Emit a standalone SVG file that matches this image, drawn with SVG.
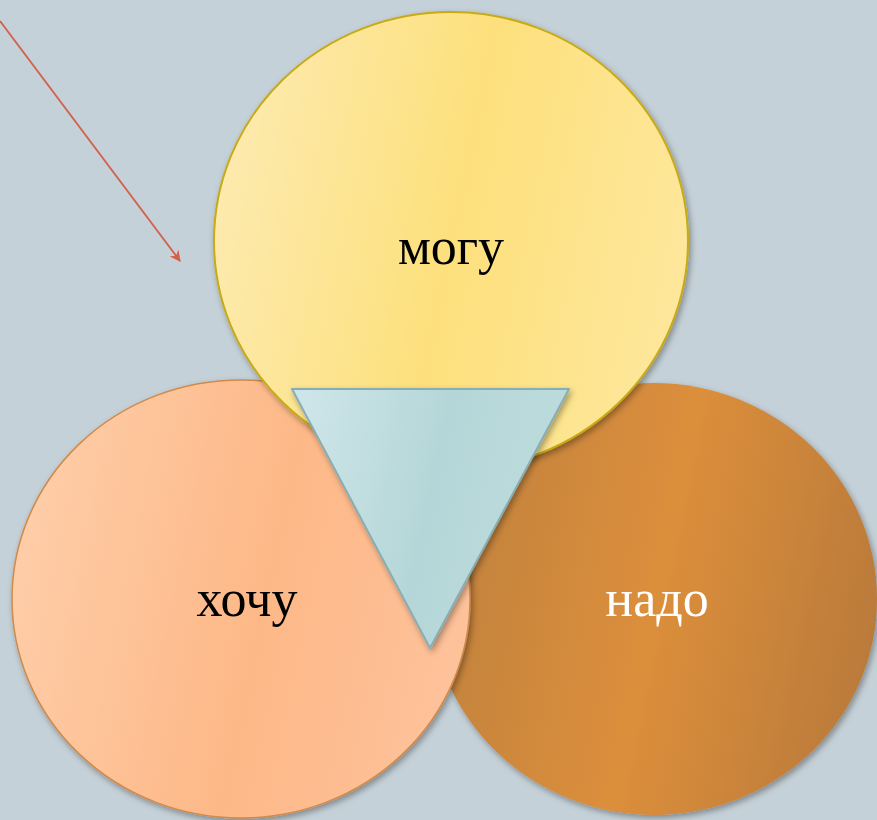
<svg xmlns="http://www.w3.org/2000/svg" width="877" height="820" viewBox="0 0 877 820">
<style>
.lbl{font-family:"Liberation Serif","Times New Roman",serif;font-size:52px;text-anchor:middle}
</style>
<defs>
<filter id="sh" x="-10%" y="-10%" width="125%" height="125%">
<feDropShadow dx="2" dy="3" stdDeviation="3" flood-color="#000" flood-opacity="0.35"/>
</filter>
<linearGradient id="gy" x1="0" y1="0.4" x2="1" y2="0.6">
<stop offset="0" stop-color="#fdeaae"/>
<stop offset="0.5" stop-color="#fde07c"/>
<stop offset="1" stop-color="#fee79c"/>
</linearGradient>
<linearGradient id="gp" x1="0" y1="0.4" x2="1" y2="0.6">
<stop offset="0" stop-color="#fecda8"/>
<stop offset="0.55" stop-color="#fdb887"/>
<stop offset="1" stop-color="#fec29b"/>
</linearGradient>
<linearGradient id="go" x1="0" y1="0.4" x2="1" y2="0.6">
<stop offset="0" stop-color="#c0813f"/>
<stop offset="0.5" stop-color="#dc8f3b"/>
<stop offset="1" stop-color="#ba7a3a"/>
</linearGradient>
<linearGradient id="gt" x1="0" y1="0.3" x2="1" y2="0.5">
<stop offset="0" stop-color="#cde5e8"/>
<stop offset="0.5" stop-color="#b5d6d8"/>
<stop offset="1" stop-color="#bedcde"/>
</linearGradient>
<marker id="ah" viewBox="0 0 10 10" refX="9" refY="5" markerWidth="11" markerHeight="11" orient="auto" markerUnits="userSpaceOnUse">
<path d="M0,0 L10,5 L0,10 L3,5 z" fill="#d3604a"/>
</marker>
</defs>
<rect width="877" height="820" fill="#c5d1d8"/>
<g id="nado">
<ellipse cx="654" cy="599" rx="223" ry="216" fill="url(#go)" filter="url(#sh)"/>
<text class="lbl" x="657" y="616" fill="#ffffff">надо</text>
</g>
<g id="khochu">
<ellipse cx="241" cy="599" rx="229" ry="219" fill="url(#gp)" stroke="#d08a4a" stroke-width="1.5" filter="url(#sh)"/>
<text class="lbl" x="247" y="616" fill="#000">хочу</text>
</g>
<g id="mogu">
<ellipse cx="451" cy="241" rx="237" ry="229" fill="url(#gy)" stroke="#c8aa14" stroke-width="2" filter="url(#sh)"/>
<text class="lbl" x="451" y="264" fill="#000">могу</text>
</g>
<g id="center">
<polygon points="292,389 569,389 430,648" fill="url(#gt)" stroke="#86aeb4" stroke-width="2" stroke-linejoin="round" filter="url(#sh)"/>
</g>
<g id="connectors">
<line x1="0" y1="21" x2="180" y2="261" stroke="#d3604a" stroke-width="1.8" marker-end="url(#ah)"/>
</g>
</svg>
